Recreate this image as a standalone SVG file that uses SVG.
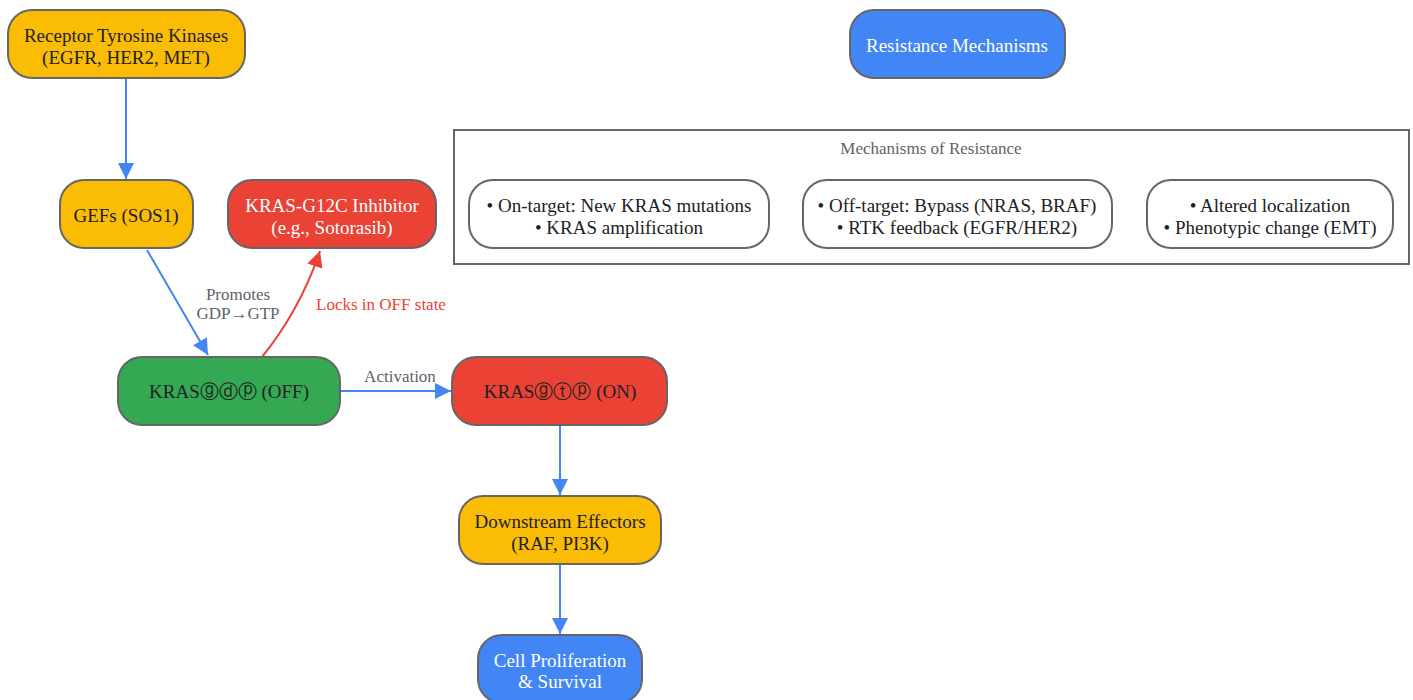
<svg xmlns="http://www.w3.org/2000/svg" width="1413" height="700" viewBox="0 0 1413 700">
<style>
.n{stroke:#666;stroke-width:2}
.y{fill:#FBBC04}.b{fill:#4285F4}.r{fill:#EA4335}.g{fill:#34A853}.w{fill:#fff}
text{font-family:"Liberation Serif","Times New Roman",serif;font-size:19px;text-anchor:middle}
.dk{fill:#202124}.wt{fill:#fff}
.lbl{font-size:17px;fill:#5f6368}
.lr{font-size:17px;fill:#EA4335}
.e{fill:none;stroke:#4285F4;stroke-width:2}
.er{fill:none;stroke:#EA4335;stroke-width:2}
</style>
<defs>
<marker id="ab" viewBox="0 0 10 10" refX="10" refY="5" markerWidth="8" markerHeight="8" markerUnits="strokeWidth" orient="auto"><path d="M0,0 L10,5 L0,10 z" fill="#4285F4"/></marker>
<marker id="ar" viewBox="0 0 10 10" refX="10" refY="5" markerWidth="8" markerHeight="8" markerUnits="strokeWidth" orient="auto"><path d="M0,0 L10,5 L0,10 z" fill="#EA4335"/></marker>
</defs>
<g id="cluster">
<rect x="454" y="130" width="955" height="134" fill="#fff" stroke="#666" stroke-width="2"/>
<text x="931" y="154" class="lbl">Mechanisms of Resistance</text>
</g>
<g id="edges">
<path class="e" d="M126,78 L126,179" marker-end="url(#ab)"/>
<path class="e" d="M147,250 L208,355" marker-end="url(#ab)"/>
<path class="er" d="M262,357 Q300,310 320,251" marker-end="url(#ar)"/>
<path class="e" d="M340,391 L451,391" marker-end="url(#ab)"/>
<path class="e" d="M560,426 L560,495" marker-end="url(#ab)"/>
<path class="e" d="M560,565 L560,634" marker-end="url(#ab)"/>
<text x="238" y="300" class="lbl">Promotes</text>
<text x="238" y="319" class="lbl">GDP→GTP</text>
<text x="381" y="310" class="lr">Locks in OFF state</text>
<text x="400" y="382" class="lbl">Activation</text>
</g>
<g id="rtk"><rect x="8" y="10" width="237" height="68" rx="24" class="n y"/><text x="126" y="42" class="dk">Receptor Tyrosine Kinases</text><text x="126" y="64" class="dk">(EGFR, HER2, MET)</text></g>
<g id="resist"><rect x="850" y="10" width="215" height="68" rx="24" class="n b"/><text x="957" y="52" class="wt">Resistance Mechanisms</text></g>
<g id="gefs"><rect x="60" y="180" width="133" height="68" rx="24" class="n y"/><text x="126" y="222" class="dk">GEFs (SOS1)</text></g>
<g id="inhib"><rect x="228" y="180" width="208" height="68" rx="24" class="n r"/><text x="332" y="212" class="wt">KRAS-G12C Inhibitor</text><text x="332" y="234" class="wt">(e.g., Sotorasib)</text></g>
<g id="m1"><rect x="469" y="180" width="300" height="68" rx="24" class="n w"/><text x="619" y="212" class="dk">• On-target: New KRAS mutations</text><text x="619" y="234" class="dk">• KRAS amplification</text></g>
<g id="m2"><rect x="803" y="180" width="309" height="68" rx="24" class="n w"/><text x="957" y="212" class="dk">• Off-target: Bypass (NRAS, BRAF)</text><text x="957" y="234" class="dk">• RTK feedback (EGFR/HER2)</text></g>
<g id="m3"><rect x="1147" y="180" width="246" height="68" rx="24" class="n w"/><text x="1270" y="212" class="dk">• Altered localization</text><text x="1270" y="234" class="dk">• Phenotypic change (EMT)</text></g>
<g id="kras_off"><rect x="118" y="357" width="222" height="68" rx="24" class="n g"/><text x="229" y="398" class="dk">KRASⓖⓓⓟ (OFF)</text></g>
<g id="kras_on"><rect x="452" y="357" width="215" height="68" rx="24" class="n r"/><text x="560" y="398" class="dk">KRASⓖⓣⓟ (ON)</text></g>
<g id="down"><rect x="459" y="496" width="202" height="68" rx="24" class="n y"/><text x="560" y="528" class="dk">Downstream Effectors</text><text x="560" y="550" class="dk">(RAF, PI3K)</text></g>
<g id="cell"><rect x="478" y="635" width="164" height="68" rx="24" class="n b"/><text x="560" y="667" class="wt">Cell Proliferation</text><text x="560" y="688" class="wt">&amp; Survival</text></g>
</svg>
